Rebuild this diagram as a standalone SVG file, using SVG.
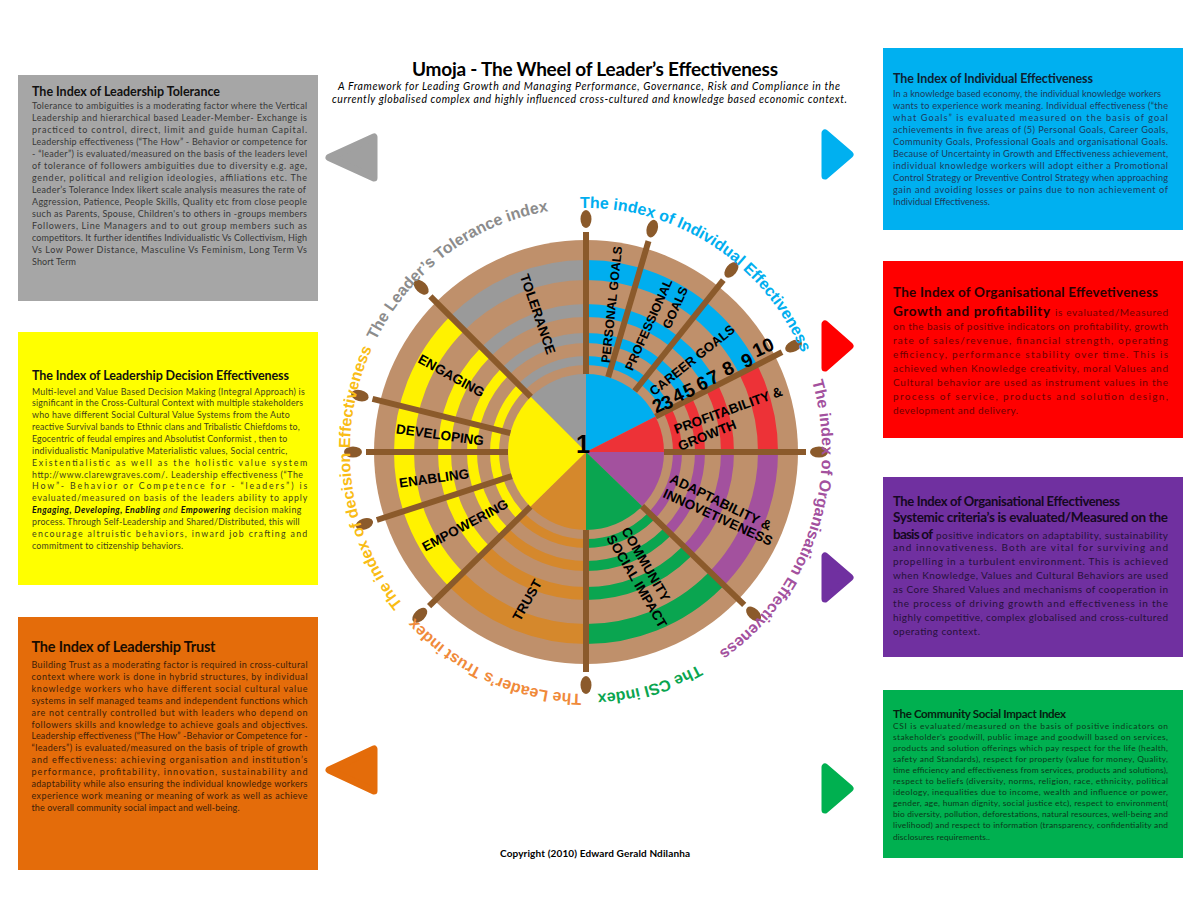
<svg xmlns="http://www.w3.org/2000/svg" width="1200" height="900" viewBox="0 0 1200 900">
<style>
.t{font-family:Lato,"Liberation Sans",sans-serif}
.b{font-weight:700}
.wl{font-family:"Liberation Sans",Arial,sans-serif;font-weight:700;font-size:13.5px;text-anchor:middle;fill:#000}
.num{font-family:"Liberation Sans",Arial,sans-serif;font-weight:700;font-size:19px;text-anchor:middle;fill:#000}
.ring{font-family:"Liberation Sans",Arial,sans-serif;font-weight:700;font-size:16px}
.spoke{stroke:#8b5a2b;stroke-width:6}
.knob{fill:#8b5a2b}
.ptr{stroke-width:7;stroke-linejoin:round}
</style>
<defs>
<g id="rings">
<circle cx="586" cy="452" r="78" fill="currentColor"/>
<g fill="none" stroke="currentColor">
<circle cx="586" cy="452" r="91.5" stroke-width="9"/>
<circle cx="586" cy="452" r="114" stroke-width="10"/>
<circle cx="586" cy="452" r="141.5" stroke-width="13"/>
<circle cx="586" cy="452" r="182" stroke-width="20"/>
</g>
</g>
<clipPath id="cGray"><polygon points="586,452 303.2,169.2 432.9,82.4 586,52"/></clipPath>
<clipPath id="cBlue"><polygon points="586,452 586,52 795,111 942.4,270.4"/></clipPath>
<clipPath id="cRed"><polygon points="586,452 942.4,270.4 975,358.6 986,452"/></clipPath>
<clipPath id="cPurple"><polygon points="586,452 986,452 956.9,601.8 873.7,729.9"/></clipPath>
<clipPath id="cGreen"><polygon points="586,452 873.7,729.9 742.3,820.2 586,852"/></clipPath>
<clipPath id="cOrange"><polygon points="586,452 586,852 431.3,820.9 300.7,732.4"/></clipPath>
<clipPath id="cYellow"><polygon points="586,452 300.7,732.4 186,450.3 303.2,169.2"/></clipPath>
<path id="ringPath" d="M 586,694 A 236,243 0 1 1 586,208 A 236,243 0 1 1 586,694"/>
</defs>
<rect width="1200" height="900" fill="#ffffff"/>

<g id="header" class="t">
<text x="595" y="76" text-anchor="middle" font-size="19" font-weight="700" textLength="366" lengthAdjust="spacing" fill="#000">Umoja - The Wheel of Leader’s Effectiveness</text>
<text x="589" y="90" text-anchor="middle" font-size="10.5" font-style="italic" textLength="502" lengthAdjust="spacing" fill="#000">A Framework for Leading Growth and Managing Performance, Governance, Risk and Compliance in the</text>
<text x="589.5" y="103" text-anchor="middle" font-size="10.5" font-style="italic" textLength="515" lengthAdjust="spacing" fill="#000">currently globalised complex and highly influenced cross-cultured and knowledge based economic context.</text>
<text x="595" y="857" text-anchor="middle" font-size="10" font-weight="700" textLength="190" lengthAdjust="spacing" fill="#000">Copyright (2010) Edward Gerald Ndilanha</text>
</g>

<g id="box-tolerance">
<rect x="18" y="75" width="300" height="226" fill="#a6a6a6"/>
<text class="t b" x="32" y="96" font-size="12.5" textLength="188" lengthAdjust="spacing" fill="#111">The Index of Leadership Tolerance</text>
<g class="t" font-size="9" fill="#383838">
<text x="32" y="109" textLength="275" lengthAdjust="spacing">Tolerance to ambiguities is a moderating factor where the Vertical</text>
<text x="32" y="121" textLength="275" lengthAdjust="spacing">Leadership and hierarchical based Leader-Member- Exchange is</text>
<text x="32" y="133" textLength="275" lengthAdjust="spacing">practiced to control, direct, limit and guide human Capital.</text>
<text x="32" y="145" textLength="275" lengthAdjust="spacing">Leadership effectiveness (“The How” - Behavior or competence for</text>
<text x="32" y="157" textLength="275" lengthAdjust="spacing">- “leader”) is evaluated/measured on the basis of the leaders level</text>
<text x="32" y="169" textLength="275" lengthAdjust="spacing">of tolerance of followers ambiguities due to diversity e.g. age,</text>
<text x="32" y="181" textLength="275" lengthAdjust="spacing">gender, political and religion ideologies, affiliations etc. The</text>
<text x="32" y="193" textLength="274" lengthAdjust="spacing">Leader’s Tolerance Index likert scale analysis measures the rate of</text>
<text x="32" y="205" textLength="275" lengthAdjust="spacing">Aggression, Patience, People Skills, Quality etc from close people</text>
<text x="32" y="217" textLength="275" lengthAdjust="spacing">such as Parents, Spouse, Children's to others in -groups members</text>
<text x="32" y="229" textLength="275" lengthAdjust="spacing">Followers, Line Managers and to out group members such as</text>
<text x="32" y="241" textLength="275" lengthAdjust="spacing">competitors. It further identifies Individualistic Vs Collectivism, High</text>
<text x="32" y="253" textLength="275" lengthAdjust="spacing">Vs Low Power Distance, Masculine Vs Feminism, Long Term Vs</text>
<text x="32" y="265" textLength="44" lengthAdjust="spacing">Short Term</text>
</g>
</g>

<g id="box-decision">
<rect x="18" y="332" width="300" height="253" fill="#ffff00"/>
<text class="t b" x="32" y="380" font-size="12.5" textLength="257" lengthAdjust="spacing" fill="#111">The Index of Leadership Decision Effectiveness</text>
<g class="t" font-size="8.8" fill="#3f3f1c">
<text x="32" y="394.5" textLength="272.7" lengthAdjust="spacing">Multi-level and Value Based Decision Making (Integral Approach) is</text>
<text x="32" y="406.4" textLength="271" lengthAdjust="spacing">significant in the Cross-Cultural Context with multiple stakeholders</text>
<text x="32" y="418.2" textLength="257.7" lengthAdjust="spacing">who have different Social Cultural Value Systems from the Auto</text>
<text x="32" y="430.1" textLength="267.7" lengthAdjust="spacing">reactive Survival bands to Ethnic clans and Tribalistic Chiefdoms to,</text>
<text x="32" y="441.9" textLength="255.3" lengthAdjust="spacing">Egocentric of feudal empires and Absolutist Conformist , then to</text>
<text x="32" y="453.8" textLength="255.3" lengthAdjust="spacing">individualistic Manipulative Materialistic values, Social centric,</text>
<text x="32" y="465.6" textLength="275.3" lengthAdjust="spacing">Existentialistic as well as the holistic value system</text>
<text x="32" y="477.5" textLength="271" lengthAdjust="spacing">http://www.clarewgraves.com/. Leadership effectiveness (“The</text>
<text x="32" y="489.3" textLength="275.3" lengthAdjust="spacing">How”- Behavior or Competence for - “leaders”) is</text>
<text x="32" y="501.2" textLength="275.3" lengthAdjust="spacing">evaluated/measured on basis of the leaders ability to apply</text>
<text x="32" y="513" textLength="269.3" lengthAdjust="spacing"><tspan font-weight="700" font-style="italic" fill="#111">Engaging, Developing, Enabling</tspan><tspan font-style="italic"> and </tspan><tspan font-weight="700" font-style="italic" fill="#111">Empowering</tspan> decision making</text>
<text x="32" y="524.9" textLength="267.7" lengthAdjust="spacing">process. Through Self-Leadership and Shared/Distributed, this will</text>
<text x="32" y="536.7" textLength="275.3" lengthAdjust="spacing">encourage altruistic behaviors, inward job crafting and</text>
<text x="32" y="548.6" textLength="151" lengthAdjust="spacing">commitment to citizenship behaviors.</text>
</g>
</g>

<g id="box-trust">
<rect x="18" y="617" width="300" height="253" fill="#e46c0a"/>
<text class="t b" x="31.5" y="652" font-size="14.5" textLength="184" lengthAdjust="spacing" fill="#1a0c00">The Index of Leadership Trust</text>
<g class="t" font-size="9" fill="#3d2008">
<text x="31.5" y="668" textLength="276" lengthAdjust="spacing">Building Trust as a moderating factor is required in cross-cultural</text>
<text x="31.5" y="679.9" textLength="276" lengthAdjust="spacing">context where work is done in hybrid structures, by individual</text>
<text x="31.5" y="691.8" textLength="276" lengthAdjust="spacing">knowledge workers who have different social cultural value</text>
<text x="31.5" y="703.7" textLength="276" lengthAdjust="spacing">systems in self managed teams and independent functions which</text>
<text x="31.5" y="715.6" textLength="276" lengthAdjust="spacing">are not centrally controlled but with leaders who depend on</text>
<text x="31.5" y="727.5" textLength="276" lengthAdjust="spacing">followers skills and knowledge to achieve goals and objectives.</text>
<text x="31.5" y="739.4" textLength="276" lengthAdjust="spacing">Leadership effectiveness (“The How” -Behavior or Competence for -</text>
<text x="31.5" y="751.3" textLength="276" lengthAdjust="spacing">“leaders”) is evaluated/measured on the basis of triple of growth</text>
<text x="31.5" y="763.2" textLength="276" lengthAdjust="spacing">and effectiveness: achieving organisation and institution’s</text>
<text x="31.5" y="775.1" textLength="276" lengthAdjust="spacing">performance, profitability, innovation, sustainability and</text>
<text x="31.5" y="787" textLength="276" lengthAdjust="spacing">adaptability while also ensuring the individual knowledge workers</text>
<text x="31.5" y="798.9" textLength="276" lengthAdjust="spacing">experience work meaning or meaning of work as well as achieve</text>
<text x="31.5" y="810.8" textLength="208" lengthAdjust="spacing">the overall community social impact and well-being.</text>
</g>
</g>

<g id="box-individual">
<rect x="883" y="48" width="300" height="182" fill="#00b0f0"/>
<text class="t b" x="893" y="83" font-size="12.5" textLength="200" lengthAdjust="spacing" fill="#0d1f33">The Index of Individual Effectiveness</text>
<g class="t" font-size="9.2" fill="#1d3a5c">
<text x="893" y="97" textLength="268" lengthAdjust="spacing">In a knowledge based economy, the individual knowledge workers</text>
<text x="893" y="109" textLength="275" lengthAdjust="spacing">wants to experience work meaning. Individual effectiveness (“the</text>
<text x="893" y="121" textLength="275" lengthAdjust="spacing">what Goals” is evaluated measured on the basis of goal</text>
<text x="893" y="133" textLength="275" lengthAdjust="spacing">achievements in five areas of (5) Personal Goals, Career Goals,</text>
<text x="893" y="145" textLength="275" lengthAdjust="spacing">Community Goals, Professional Goals and organisational Goals.</text>
<text x="893" y="157" textLength="275" lengthAdjust="spacing">Because of Uncertainty in Growth and Effectiveness achievement,</text>
<text x="893" y="169" textLength="275" lengthAdjust="spacing">individual knowledge workers will adopt either a Promotional</text>
<text x="893" y="181" textLength="275" lengthAdjust="spacing">Control Strategy or Preventive Control Strategy when approaching</text>
<text x="893" y="193" textLength="275" lengthAdjust="spacing">gain and avoiding losses or pains due to non achievement of</text>
<text x="893" y="205" textLength="97" lengthAdjust="spacing">Individual Effectiveness.</text>
</g>
</g>

<g id="box-growth">
<rect x="883" y="261" width="300" height="177" fill="#ff0000"/>
<text class="t b" x="893" y="297" font-size="13.5" textLength="265" lengthAdjust="spacing" fill="#2a0000">The Index of Organisational Effevetiveness</text>
<text class="t b" x="893" y="316" font-size="13.5" textLength="157" lengthAdjust="spacing" fill="#2a0000">Growth and profitability</text>
<text class="t" x="1055" y="316" font-size="10" textLength="113" lengthAdjust="spacing" fill="#6e0000">is evaluated/Measured</text>
<g class="t" font-size="10" fill="#6e0000">
<text x="893" y="330" textLength="275" lengthAdjust="spacing">on the basis of positive indicators on profitability, growth</text>
<text x="893" y="344" textLength="275" lengthAdjust="spacing">rate of sales/revenue, financial strength, operating</text>
<text x="893" y="358" textLength="275" lengthAdjust="spacing">efficiency, performance stability over time. This is</text>
<text x="893" y="372" textLength="275" lengthAdjust="spacing">achieved when Knowledge creativity, moral Values and</text>
<text x="893" y="386" textLength="275" lengthAdjust="spacing">Cultural behavior are used as instrument values in the</text>
<text x="893" y="400" textLength="275" lengthAdjust="spacing">process of service, products and solution design,</text>
<text x="893" y="414" textLength="125" lengthAdjust="spacing">development and delivery.</text>
</g>
</g>

<g id="box-systemic">
<rect x="883" y="477" width="300" height="180" fill="#7030a0"/>
<text class="t b" x="893" y="505.5" font-size="13" textLength="227" lengthAdjust="spacing" fill="#150822">The Index of Organisational Effectiveness</text>
<text class="t b" x="893" y="522" font-size="13.5" textLength="275" lengthAdjust="spacing" fill="#150822">Systemic criteria’s is evaluated/Measured on the</text>
<text class="t b" x="893" y="538.5" font-size="13.5" textLength="40" lengthAdjust="spacing" fill="#150822">basis of</text>
<text class="t" x="936" y="538.5" font-size="10" textLength="232" lengthAdjust="spacing" fill="#26103a">positive indicators on adaptability, sustainability</text>
<g class="t" font-size="10" fill="#26103a">
<text x="893" y="551" textLength="275" lengthAdjust="spacing">and innovativeness. Both are vital for surviving and</text>
<text x="893" y="565" textLength="275" lengthAdjust="spacing">propelling in a turbulent environment. This is achieved</text>
<text x="893" y="579" textLength="275" lengthAdjust="spacing">when Knowledge, Values and Cultural Behaviors are used</text>
<text x="893" y="593" textLength="275" lengthAdjust="spacing">as Core Shared Values and mechanisms of cooperation in</text>
<text x="893" y="607" textLength="275" lengthAdjust="spacing">the process of driving growth and effectiveness in the</text>
<text x="893" y="621" textLength="275" lengthAdjust="spacing">highly competitive, complex globalised and cross-cultured</text>
<text x="893" y="635" textLength="87" lengthAdjust="spacing">operating context.</text>
</g>
</g>

<g id="box-csi">
<rect x="883" y="690" width="300" height="168" fill="#00b050"/>
<text class="t b" x="893" y="718" font-size="11.5" textLength="173" lengthAdjust="spacing" fill="#06200f">The Community Social Impact Index</text>
<g class="t" font-size="8.4" fill="#0b3a1a">
<text x="893" y="729" textLength="275" lengthAdjust="spacing">CSI is evaluated/measured on the basis of positive indicators on</text>
<text x="893" y="740" textLength="275" lengthAdjust="spacing">stakeholder’s goodwill, public image and goodwill based on services,</text>
<text x="893" y="751" textLength="275" lengthAdjust="spacing">products and solution offerings which pay respect for the life (health,</text>
<text x="893" y="762" textLength="275" lengthAdjust="spacing">safety and Standards), respect for property (value for money, Quality,</text>
<text x="893" y="773" textLength="275" lengthAdjust="spacing">time efficiency and effectiveness from services, products and solutions),</text>
<text x="893" y="784" textLength="275" lengthAdjust="spacing">respect to beliefs (diversity, norms, religion, race, ethnicity, political</text>
<text x="893" y="795" textLength="275" lengthAdjust="spacing">ideology, inequalities due to income, wealth and influence or power,</text>
<text x="893" y="806" textLength="275" lengthAdjust="spacing">gender, age, human dignity, social justice etc), respect to environment(</text>
<text x="893" y="817" textLength="275" lengthAdjust="spacing">bio diversity, pollution, deforestations, natural resources, well-being and</text>
<text x="893" y="828" textLength="275" lengthAdjust="spacing">livelihood) and respect to information (transparency, confidentiality and</text>
<text x="893" y="839.5" textLength="97" lengthAdjust="spacing">disclosures requirements..</text>
</g>
</g>

<g id="connectors">
<polygon class="ptr" points="374,137 374,178 329,157.5" fill="#a0a0a0" stroke="#a0a0a0"/>
<polygon class="ptr" points="374,749 374,791 329,770" fill="#e46c0a" stroke="#e46c0a"/>
<polygon class="ptr" points="825,133 825,176 850,154.5" fill="#00b0f0" stroke="#00b0f0"/>
<polygon class="ptr" points="825,324 825,368 850,346" fill="#ff0000" stroke="#ff0000"/>
<polygon class="ptr" points="825,556 825,599 850,577.5" fill="#7030a0" stroke="#7030a0"/>
<polygon class="ptr" points="825,767 825,810 850,788.5" fill="#00b050" stroke="#00b050"/>
</g>

<g id="wheel">
<circle cx="586" cy="452" r="212" fill="#bf906b"/>
<use href="#rings" clip-path="url(#cGray)" color="#9a9a9a"/>
<use href="#rings" clip-path="url(#cBlue)" color="#00aeef"/>
<use href="#rings" clip-path="url(#cRed)" color="#ed3237"/>
<use href="#rings" clip-path="url(#cPurple)" color="#a3519e"/>
<use href="#rings" clip-path="url(#cGreen)" color="#0aa550"/>
<use href="#rings" clip-path="url(#cOrange)" color="#d5882c"/>
<use href="#rings" clip-path="url(#cYellow)" color="#fff200"/>
</g>

<g id="spokes">
<g class="spoke">
<line x1="586" y1="374" x2="586" y2="232"/>
<line x1="608.2" y1="377.2" x2="648.5" y2="241.1"/>
<line x1="634.7" y1="391" x2="723.3" y2="280.1"/>
<line x1="655.5" y1="416.6" x2="782" y2="352.1"/>
<line x1="664" y1="452" x2="806" y2="452"/>
<line x1="642.1" y1="506.2" x2="744.2" y2="604.8"/>
<line x1="586" y1="530" x2="586" y2="672"/>
<line x1="530.4" y1="506.7" x2="429.1" y2="606.2"/>
<line x1="511.8" y1="476.1" x2="376.8" y2="520"/>
<line x1="508" y1="452" x2="366" y2="452"/>
<line x1="510.3" y1="433.1" x2="372.5" y2="398.8"/>
<line x1="530.8" y1="396.8" x2="430.4" y2="296.4"/>
</g>
<g class="knob">
<ellipse cx="586" cy="219" rx="9" ry="5.5" transform="rotate(-90 586 219)"/>
<ellipse cx="652.2" cy="228.6" rx="9" ry="5.5" transform="rotate(-73.5 652.2 228.6)"/>
<ellipse cx="731.4" cy="269.9" rx="9" ry="5.5" transform="rotate(-51.4 731.4 269.9)"/>
<ellipse cx="793.6" cy="346.2" rx="9" ry="5.5" transform="rotate(-27 793.6 346.2)"/>
<ellipse cx="819" cy="452" rx="9" ry="5.5"/>
<ellipse cx="753.6" cy="613.9" rx="9" ry="5.5" transform="rotate(44 753.6 613.9)"/>
<ellipse cx="586" cy="685" rx="9" ry="5.5" transform="rotate(90 586 685)"/>
<ellipse cx="419.8" cy="615.3" rx="9" ry="5.5" transform="rotate(135.5 419.8 615.3)"/>
<ellipse cx="364.4" cy="524" rx="9" ry="5.5" transform="rotate(162 364.4 524)"/>
<ellipse cx="353" cy="452" rx="9" ry="5.5"/>
<ellipse cx="359.9" cy="395.6" rx="9" ry="5.5" transform="rotate(194 359.9 395.6)"/>
<ellipse cx="421.2" cy="287.2" rx="9" ry="5.5" transform="rotate(225 421.2 287.2)"/>
</g>
</g>

<g id="sector-labels">
<text class="wl" transform="translate(538 314) rotate(71)" dy="0.36em">TOLERANCE</text>
<text class="wl" transform="translate(611.5 304.5) rotate(-84)" dy="0.36em" style="font-size:12.5px">PERSONAL GOALS</text>
<text class="wl" transform="translate(648.5 324.5) rotate(-66)" dy="0.36em" style="font-size:12.5px">PROFESSIONAL</text>
<text class="wl" transform="translate(675 307.5) rotate(-66)" dy="0.36em" style="font-size:12.5px">GOALS</text>
<text class="wl" transform="translate(692 360) rotate(-38.5)" dy="0.36em" style="font-size:13px">CAREER GOALS</text>
<text class="wl" transform="translate(728 410) rotate(-20)" dy="0.36em">PROFITABILITY &amp;</text>
<text class="wl" transform="translate(707 435) rotate(-22)" dy="0.36em">GROWTH</text>
<text class="wl" transform="translate(721 502) rotate(26)" dy="0.36em">ADAPTABILITY &amp;</text>
<text class="wl" transform="translate(718 517) rotate(24.5)" dy="0.36em">INNOVETIVENESS</text>
<text class="wl" transform="translate(646 564) rotate(60)" dy="0.36em">COMMUNITY</text>
<text class="wl" transform="translate(637 581) rotate(59.5)" dy="0.36em">SOCIAL IMPACT</text>
<text class="wl" transform="translate(527 600) rotate(-60)" dy="0.36em">TRUST</text>
<text class="wl" transform="translate(465 525) rotate(-28)" dy="0.36em">EMPOWERING</text>
<text class="wl" transform="translate(434 478) rotate(-8)" dy="0.36em">ENABLING</text>
<text class="wl" transform="translate(440 434.5) rotate(8)" dy="0.36em">DEVELOPING</text>
<text class="wl" transform="translate(451.5 375.5) rotate(29)" dy="0.36em">ENGAGING</text>
<text class="num" x="583" y="453" style="font-size:25px">1</text>
<text class="num" transform="translate(658 405) rotate(-25)" dy="0.36em">2</text>
<text class="num" transform="translate(667 402) rotate(-25)" dy="0.36em">3</text>
<text class="num" transform="translate(678 395) rotate(-25)" dy="0.36em">4</text>
<text class="num" transform="translate(689 390) rotate(-25)" dy="0.36em">5</text>
<text class="num" transform="translate(702 383) rotate(-25)" dy="0.36em">6</text>
<text class="num" transform="translate(713 377) rotate(-25)" dy="0.36em">7</text>
<text class="num" transform="translate(728 368) rotate(-25)" dy="0.36em">8</text>
<text class="num" transform="translate(747 360) rotate(-25)" dy="0.36em">9</text>
<text class="num" transform="translate(763 347) rotate(-25)" dy="0.36em">10</text>
</g>

<g id="ring-labels" class="ring">
<text fill="#f08a3a"><textPath href="#ringPath" startOffset="0.3%">The Leader’s Trust index</textPath></text>
<text fill="#f9bc15"><textPath href="#ringPath" startOffset="14%">The index of decision Effectiveness</textPath></text>
<text fill="#8c8c8c"><textPath href="#ringPath" startOffset="32.6%">The Leader’s Tolerance index</textPath></text>
<text fill="#00aeef"><textPath href="#ringPath" startOffset="49.6%">The index of Individual Effectiveness</textPath></text>
<text fill="#a3519e"><textPath href="#ringPath" startOffset="70.3%">The index of Organisation Effectiveness</textPath></text>
<text fill="#0aa550"><textPath href="#ringPath" startOffset="92.2%">The CSI index</textPath></text>
</g>
</svg>
